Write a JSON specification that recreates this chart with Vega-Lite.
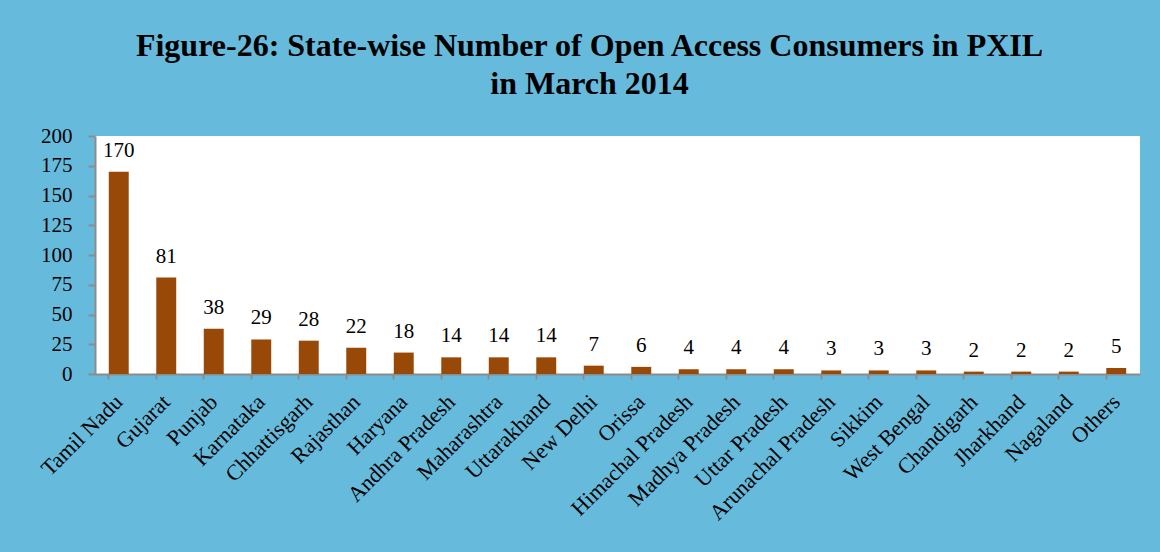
{
  "$schema": "https://vega.github.io/schema/vega-lite/v6.json",
  "autosize": {"type": "none"},
  "width": 1045,
  "height": 238,
  "padding": {"left": 95, "top": 136, "right": 20, "bottom": 178},
  "background": "#66BBDD",
  "title": {
    "text": ["Figure-26: State-wise Number of Open Access Consumers in PXIL", "in March 2014"],
    "font": "Liberation Serif",
    "fontSize": 32,
    "fontWeight": "bold",
    "color": "#000000",
    "lineHeight": 38,
    "anchor": "middle",
    "frame": "group",
    "dx": -28,
    "offset": 24
  },
  "config": {
    "view": {"fill": "#ffffff", "stroke": null},
    "axis": {
      "labelFont": "Liberation Serif",
      "labelFontSize": 21,
      "labelColor": "#000000",
      "domainColor": "#8c8c8c",
      "tickColor": "#8c8c8c",
      "domainWidth": 2,
      "tickWidth": 2,
      "grid": false,
      "title": null
    }
  },
  "data": {
    "values": [
      {"state": "Tamil Nadu", "consumers": 170},
      {"state": "Gujarat", "consumers": 81},
      {"state": "Punjab", "consumers": 38},
      {"state": "Karnataka", "consumers": 29},
      {"state": "Chhattisgarh", "consumers": 28},
      {"state": "Rajasthan", "consumers": 22},
      {"state": "Haryana", "consumers": 18},
      {"state": "Andhra Pradesh", "consumers": 14},
      {"state": "Maharashtra", "consumers": 14},
      {"state": "Uttarakhand", "consumers": 14},
      {"state": "New Delhi", "consumers": 7},
      {"state": "Orissa", "consumers": 6},
      {"state": "Himachal Pradesh", "consumers": 4},
      {"state": "Madhya Pradesh", "consumers": 4},
      {"state": "Uttar Pradesh", "consumers": 4},
      {"state": "Arunachal Pradesh", "consumers": 3},
      {"state": "Sikkim", "consumers": 3},
      {"state": "West Bengal", "consumers": 3},
      {"state": "Chandigarh", "consumers": 2},
      {"state": "Jharkhand", "consumers": 2},
      {"state": "Nagaland", "consumers": 2},
      {"state": "Others", "consumers": 5}
    ]
  },
  "encoding": {
    "x": {
      "field": "state",
      "type": "nominal",
      "sort": null,
      "scale": {"paddingInner": 0.58, "paddingOuter": 0.29},
      "axis": {
        "labelAngle": -45,
        "labelAlign": "right",
        "labelBaseline": "middle",
        "labelFontSize": 22,
        "bandPosition": 0,
        "tickSize": 5,
        "labelPadding": 19
      }
    },
    "y": {
      "field": "consumers",
      "type": "quantitative",
      "scale": {"domain": [0, 200], "nice": false},
      "axis": {
        "values": [0, 25, 50, 75, 100, 125, 150, 175, 200],
        "tickSize": 7,
        "labelPadding": 16
      }
    }
  },
  "layer": [
    {"mark": {"type": "bar", "color": "#984807"}},
    {
      "mark": {"type": "text", "font": "Liberation Serif", "fontSize": 21, "color": "#000000", "baseline": "alphabetic", "dy": -15},
      "encoding": {"text": {"field": "consumers", "type": "quantitative"}}
    }
  ]
}
